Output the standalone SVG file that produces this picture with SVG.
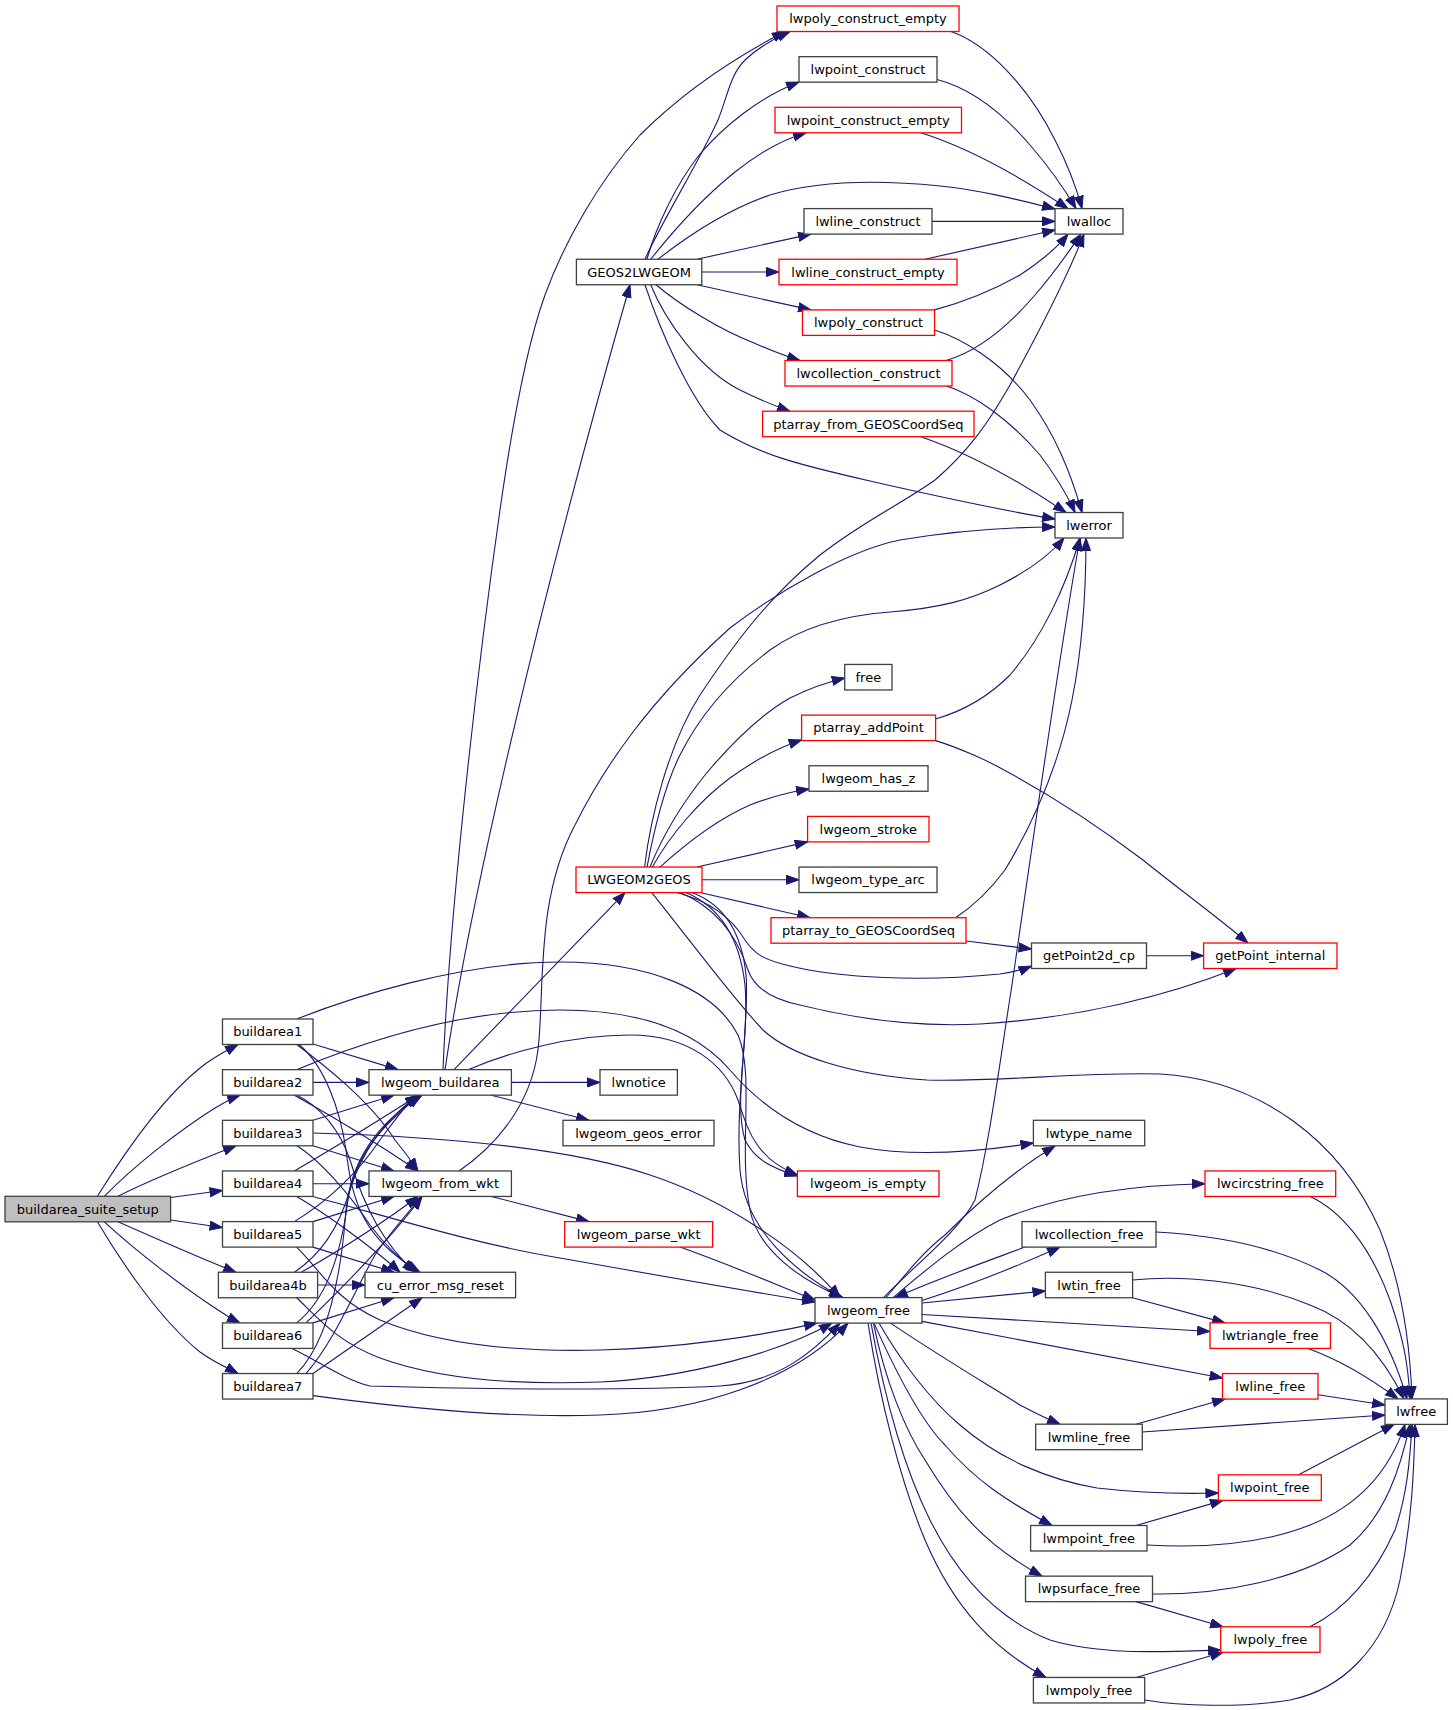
<svg xmlns="http://www.w3.org/2000/svg" width="1453" height="1710" viewBox="0 0 1453 1710">
<style>
.b{fill:#fff;stroke:#404040;stroke-width:1.3}
.r{fill:#fff;stroke:#ff0000;stroke-width:1.3}
.g{fill:#bfbfbf;stroke:#404040;stroke-width:1.3}
text{font-family:"DejaVu Sans","Liberation Sans",sans-serif;font-size:13px;text-anchor:middle;fill:#000}
.e{fill:none;stroke:#191970;stroke-width:1.1;marker-end:url(#a)}
</style>
<defs>
<marker id="a" markerUnits="userSpaceOnUse" markerWidth="15" markerHeight="11" refX="13" refY="5" orient="auto"><path d="M0.5,0.5 L13,5 L0.5,9.5 z" fill="#191970" stroke="#191970" stroke-width="1"/></marker>
</defs>
<rect width="1453" height="1710" fill="#fff"/>
<g id="edges">
<path class="e" d="M97.4,1196.3 C120,1160 160,1100 200,1068 C215,1056 228,1050 238,1044.5"/>
<path class="e" d="M104.3,1196.3 C135,1165 180,1130 215,1108 C225,1102 232,1098 240,1095.2"/>
<path class="e" d="M118,1196.3 C150,1180 200,1160 236,1145.8"/>
<path class="e" d="M170.6,1197.5 L222.5,1190.5"/>
<path class="e" d="M170.6,1220 L222.5,1227.5"/>
<path class="e" d="M118,1221.8 C150,1236 200,1258 236,1272.3"/>
<path class="e" d="M104.3,1221.8 C135,1250 180,1285 215,1308 C225,1315 232,1319 240,1322.9"/>
<path class="e" d="M97.4,1221.8 C120,1260 160,1320 200,1352 C215,1363 228,1368 238,1373.5"/>
<path class="e" d="M313,1044 L398,1069.65"/>
<path class="e" d="M296.7,1044.5 C320,1062 370,1100 395,1140 C405,1152 412,1162 418,1170.95"/>
<path class="e" d="M299,1044.5 C325,1066 340,1110 346,1150 C352,1200 362,1238 420,1272.25"/>
<path class="e" d="M296.7,1019 C350,998 460,962 560,962 C650,962 715,990 738,1035 C755,1075 738,1150 750,1210 C758,1250 800,1280 843,1297.6"/>
<path class="e" d="M313,1082.4 L369,1082.4"/>
<path class="e" d="M294.4,1095.2 C330,1115 380,1145 418,1170.95"/>
<path class="e" d="M296.7,1095.2 C320,1106 340,1130 350,1160 C365,1210 385,1245 415,1272.25"/>
<path class="e" d="M296.7,1069.65 C380,1035 470,1010 560,1010 C650,1010 700,1035 730,1070 C760,1105 800,1135 860,1147 C920,1158 990,1150 1033.4,1143"/>
<path class="e" d="M313,1120.3 L394,1095.2"/>
<path class="e" d="M313,1145.8 L394,1170.95"/>
<path class="e" d="M296.7,1145.8 C320,1160 350,1195 370,1225 C385,1245 400,1260 418,1272.25"/>
<path class="e" d="M313,1133.05 C420,1136 560,1145 650,1175 C720,1198 795,1245 840,1297.6"/>
<path class="e" d="M294.4,1170.95 C330,1150 380,1120 418,1095.2"/>
<path class="e" d="M313,1183.7 L369,1183.7"/>
<path class="e" d="M296.7,1196.45 C320,1210 370,1245 400,1272.25"/>
<path class="e" d="M313,1196.45 C400,1220 480,1245 560,1258 C650,1274 740,1290 815,1302"/>
<path class="e" d="M294.4,1221.6 C330,1200 360,1170 380,1140 C395,1120 405,1105 418,1095.2"/>
<path class="e" d="M313,1221.6 L394,1196.45"/>
<path class="e" d="M313,1247.1 L394,1272.25"/>
<path class="e" d="M296.7,1247.1 C320,1270 335,1300 380,1320 C440,1345 520,1352 600,1350 C680,1348 760,1336 817,1323.1"/>
<path class="e" d="M294.4,1272.25 C320,1255 338,1230 350,1190 C362,1150 385,1120 418,1095.2"/>
<path class="e" d="M301.3,1272.25 C340,1250 380,1225 418,1196.45"/>
<path class="e" d="M317.6,1285 L365,1285"/>
<path class="e" d="M296.7,1297.75 C320,1320 338,1342 380,1358 C440,1380 520,1385 600,1382 C690,1378 785,1350 832,1323.1"/>
<path class="e" d="M296.7,1322.9 C325,1300 340,1260 348,1200 C355,1150 390,1120 420,1095.2"/>
<path class="e" d="M306,1322.9 C340,1290 390,1240 422,1196.45"/>
<path class="e" d="M313,1322.9 L394,1297.75"/>
<path class="e" d="M292,1348.4 C320,1362 345,1380 370,1386 C500,1390 650,1390 720,1386 C780,1382 815,1350 840,1323.1"/>
<path class="e" d="M296.7,1373.55 C325,1345 340,1290 346,1210 C352,1150 390,1115 422,1095.2"/>
<path class="e" d="M306,1373.55 C335,1340 355,1290 375,1255 C392,1230 410,1210 422,1196.45"/>
<path class="e" d="M313,1373.55 L422,1297.75"/>
<path class="e" d="M313,1395.6 C420,1410 520,1418 600,1415 C700,1412 795,1380 848,1323.1"/>
<path class="e" d="M511.4,1082.4 L600,1082.4"/>
<path class="e" d="M491.4,1095.2 L589,1120.3"/>
<path class="e" d="M454,1069.65 L625,892.55"/>
<path class="e" d="M445,1069.65 C470,900 540,600 630,284.75"/>
<path class="e" d="M443,1069.65 C450,900 480,650 500,510 C510,440 525,350 545,295 C565,240 600,180 640,135 C680,95 730,60 785,31.5"/>
<path class="e" d="M468,1069.65 C510,1052 570,1035 630,1035 C690,1035 725,1065 738,1100 C748,1130 755,1158 797.4,1175"/>
<path class="e" d="M491.4,1196.45 L589,1221.6"/>
<path class="e" d="M459,1170.95 C490,1150 530,1110 538,1050 C545,990 535,900 575,825 C605,765 650,700 730,628 C780,590 850,550 900,540 C960,530 1010,527 1055,527"/>
<path class="e" d="M680,1247.1 C730,1265 770,1282 815,1300"/>
<path class="e" d="M645,259.25 C660,225 700,160 718,120 C728,95 730,75 745,60 C758,48 770,40 790,31.5"/>
<path class="e" d="M647,259.25 C655,230 675,185 700,154 C725,125 760,97 799,82"/>
<path class="e" d="M650.7,259.25 C670,235 700,200 735,172 C760,152 785,139 806,132.8"/>
<path class="e" d="M658,259.25 C680,242 720,212 770,195 C820,180 880,180 940,186 C980,190 1020,200 1055,209"/>
<path class="e" d="M697,259.25 L811,234.1"/>
<path class="e" d="M701.8,272 L779,272"/>
<path class="e" d="M697,284.75 L811,309.9"/>
<path class="e" d="M656,284.75 C680,305 720,330 754,343 C770,350 785,356 800,360.55"/>
<path class="e" d="M650.7,284.75 C665,320 700,370 740,390 C760,400 775,406 790,411.2"/>
<path class="e" d="M645,284.75 C660,330 690,400 720,430 C760,455 800,465 870,481 C940,497 1000,510 1055,519"/>
<path class="e" d="M951,31.5 C990,45 1030,90 1055,140 C1068,165 1077,190 1082,208.6"/>
<path class="e" d="M937,79.5 C970,88 1000,110 1030,145 C1050,168 1065,190 1076,208.6"/>
<path class="e" d="M920.7,132.8 C960,145 1010,170 1068,208.6"/>
<path class="e" d="M932,221.35 L1055,221.35"/>
<path class="e" d="M925,259.25 L1055,230"/>
<path class="e" d="M934.6,309.9 C960,303 990,292 1020,275 C1040,262 1055,250 1068,234.1"/>
<path class="e" d="M946,360.55 C975,352 1005,330 1035,295 C1055,272 1070,250 1081,234.1"/>
<path class="e" d="M644.6,867.05 C650,820 668,745 700,695 C730,650 765,600 820,555 C865,520 900,505 935,480 C970,450 990,420 1010,385 C1040,330 1068,275 1084,234.1"/>
<path class="e" d="M934.6,330 C960,338 1000,360 1030,400 C1055,435 1070,470 1082,512.5"/>
<path class="e" d="M946,385.7 C975,395 1010,420 1040,455 C1055,475 1066,492 1075,512.5"/>
<path class="e" d="M920.7,436.7 C960,450 1010,475 1066,512.5"/>
<path class="e" d="M935.6,719 C960,712 985,700 1010,675 C1040,640 1065,590 1080,538"/>
<path class="e" d="M955.5,917.7 C975,905 990,890 1005,870 C1035,820 1060,760 1072,700 C1082,650 1086,600 1086,538"/>
<path class="e" d="M883.6,1297.6 C915,1265 960,1230 975,1200 C990,1140 1000,1060 1012,985 C1030,860 1060,650 1080,538"/>
<path class="e" d="M647,867.05 C655,825 665,785 680,755 C700,715 730,680 770,650 C805,625 850,615 890,612 C940,608 970,600 1000,585 C1030,570 1050,555 1064,538"/>
<path class="e" d="M650,867.05 C665,830 685,800 705,775 C730,745 760,715 790,698 C810,688 828,682 844.7,678"/>
<path class="e" d="M652.4,867.05 C670,835 700,800 730,778 C755,760 780,747 801.6,740"/>
<path class="e" d="M660,867.05 C690,840 720,818 750,805 C770,797 790,792 809,789"/>
<path class="e" d="M697,867.05 L807.6,841.9"/>
<path class="e" d="M702,879.8 L799,879.8"/>
<path class="e" d="M702,893 L810,917.7"/>
<path class="e" d="M676.7,892.55 C705,900 730,915 745,940 C755,955 765,960 790,966 C840,978 920,982 1000,974 C1012,972 1022,970 1031.5,966"/>
<path class="e" d="M680,892.55 C710,905 735,930 748,970 C755,990 775,1000 800,1005 C860,1020 920,1027 980,1024 C1080,1018 1170,995 1236,968.5"/>
<path class="e" d="M651.7,892.55 C690,940 730,995 763,1030 C790,1055 850,1075 927,1080 C1000,1082 1080,1072 1160,1074 C1260,1080 1340,1140 1380,1230 C1400,1280 1410,1340 1412,1398.9"/>
<path class="e" d="M692,892.55 C725,905 742,935 746,975 C750,1020 735,1100 740,1170 C745,1230 795,1272 842,1297.6"/>
<path class="e" d="M686,892.55 C722,908 740,940 745,985 C750,1040 733,1100 745,1140 C755,1160 772,1168 797.4,1176"/>
<path class="e" d="M935.6,740.6 C960,748 990,762 1004,770 C1060,800 1110,835 1143,860 C1180,890 1215,915 1248,943"/>
<path class="e" d="M966,941 L1031.5,949"/>
<path class="e" d="M1146.5,955.75 L1203.6,955.75"/>
<path class="e" d="M886,1297.6 C905,1275 925,1250 945,1235 C980,1200 1015,1170 1055,1146"/>
<path class="e" d="M893,1297.6 C920,1275 960,1240 1000,1220 C1060,1195 1130,1185 1205,1183.7"/>
<path class="e" d="M922,1300.6 C970,1285 1020,1265 1060,1247.1"/>
<path class="e" d="M1025,1247.1 C985,1262 940,1278 895,1297.6"/>
<path class="e" d="M922,1303 L1045.4,1291"/>
<path class="e" d="M922,1314.5 L1210,1331.5"/>
<path class="e" d="M922,1321.4 L1222.5,1378"/>
<path class="e" d="M890.6,1323.1 C930,1350 980,1380 1020,1405 C1035,1413 1050,1420 1060,1424.2"/>
<path class="e" d="M879,1323.1 C900,1360 930,1400 960,1425 C1000,1460 1050,1480 1097,1488 C1140,1493 1180,1494 1218.4,1493"/>
<path class="e" d="M874,1323.1 C895,1370 920,1420 945,1445 C975,1480 1005,1500 1052,1525.5"/>
<path class="e" d="M873.4,1323.1 C885,1380 905,1430 925,1460 C955,1510 985,1545 1042,1576.15"/>
<path class="e" d="M871,1323.1 C885,1400 905,1470 930,1520 C960,1580 1000,1620 1050,1640 C1100,1655 1160,1652 1220.7,1650"/>
<path class="e" d="M868,1323.1 C880,1400 900,1480 925,1540 C955,1610 995,1650 1046,1677.45"/>
<path class="e" d="M1310,1196.45 C1340,1210 1370,1245 1390,1300 C1402,1335 1408,1360 1410,1398.9"/>
<path class="e" d="M1156,1232 C1210,1235 1270,1245 1320,1270 C1360,1290 1390,1340 1407,1398.9"/>
<path class="e" d="M1132.6,1280 C1180,1275 1250,1280 1310,1305 C1355,1322 1385,1360 1404,1398.9"/>
<path class="e" d="M1132.6,1297.75 L1225,1322.9"/>
<path class="e" d="M1308,1348.4 C1340,1360 1370,1378 1398,1398.9"/>
<path class="e" d="M1318,1394.7 L1385,1405"/>
<path class="e" d="M1136,1424.2 L1225,1399.05"/>
<path class="e" d="M1142.3,1432 L1385,1415"/>
<path class="e" d="M1298.6,1474.85 L1394,1424.4"/>
<path class="e" d="M1136,1525.5 L1223,1500.35"/>
<path class="e" d="M1147,1545 C1200,1548 1260,1545 1310,1525 C1360,1505 1390,1470 1405,1424.4"/>
<path class="e" d="M1152.5,1594 C1220,1595 1300,1580 1350,1545 C1385,1515 1400,1470 1410,1424.4"/>
<path class="e" d="M1136,1601.65 L1223,1626.8"/>
<path class="e" d="M1310,1626.8 C1345,1610 1375,1575 1395,1530 C1407,1495 1410,1460 1412,1424.4"/>
<path class="e" d="M1136,1677.45 L1223,1652.3"/>
<path class="e" d="M1144.7,1700 C1180,1706 1240,1708 1290,1700 C1340,1690 1385,1650 1400,1580 C1412,1520 1414,1470 1415,1424.4"/>
</g>
<g id="n_buildarea_suite_setup"><rect class="g" x="5" y="1196.3" width="165.6" height="25.5"/><text x="87.8" y="1213.6">buildarea_suite_setup</text></g>
<g id="n_buildarea1"><rect class="b" x="222.5" y="1019" width="90.5" height="25.5"/><text x="267.75" y="1036.3">buildarea1</text></g>
<g id="n_buildarea2"><rect class="b" x="222.5" y="1069.65" width="90.5" height="25.5"/><text x="267.75" y="1086.95">buildarea2</text></g>
<g id="n_buildarea3"><rect class="b" x="222.5" y="1120.3" width="90.5" height="25.5"/><text x="267.75" y="1137.6">buildarea3</text></g>
<g id="n_buildarea4"><rect class="b" x="222.5" y="1170.95" width="90.5" height="25.5"/><text x="267.75" y="1188.25">buildarea4</text></g>
<g id="n_buildarea5"><rect class="b" x="222.5" y="1221.6" width="90.5" height="25.5"/><text x="267.75" y="1238.9">buildarea5</text></g>
<g id="n_buildarea4b"><rect class="b" x="218.4" y="1272.25" width="99.2" height="25.5"/><text x="268" y="1289.55">buildarea4b</text></g>
<g id="n_buildarea6"><rect class="b" x="222.5" y="1322.9" width="90.5" height="25.5"/><text x="267.75" y="1340.2">buildarea6</text></g>
<g id="n_buildarea7"><rect class="b" x="222.5" y="1373.55" width="90.5" height="25.5"/><text x="267.75" y="1390.85">buildarea7</text></g>
<g id="n_lwgeom_buildarea"><rect class="b" x="369" y="1069.65" width="142.4" height="25.5"/><text x="440.2" y="1086.95">lwgeom_buildarea</text></g>
<g id="n_lwgeom_from_wkt"><rect class="b" x="369" y="1170.95" width="142.4" height="25.5"/><text x="440.2" y="1188.25">lwgeom_from_wkt</text></g>
<g id="n_cu_error_msg_reset"><rect class="b" x="365" y="1272.25" width="150.6" height="25.5"/><text x="440.3" y="1289.55">cu_error_msg_reset</text></g>
<g id="n_GEOS2LWGEOM"><rect class="b" x="576.4" y="259.25" width="125.4" height="25.5"/><text x="639.1" y="276.55">GEOS2LWGEOM</text></g>
<g id="n_LWGEOM2GEOS"><rect class="r" x="576" y="867.05" width="126" height="25.5"/><text x="639" y="884.35">LWGEOM2GEOS</text></g>
<g id="n_lwnotice"><rect class="b" x="600" y="1069.65" width="77.4" height="25.5"/><text x="638.7" y="1086.95">lwnotice</text></g>
<g id="n_lwgeom_geos_error"><rect class="b" x="563" y="1120.3" width="151" height="25.5"/><text x="638.5" y="1137.6">lwgeom_geos_error</text></g>
<g id="n_lwgeom_parse_wkt"><rect class="r" x="564.7" y="1221.6" width="147.9" height="25.5"/><text x="638.65" y="1238.9">lwgeom_parse_wkt</text></g>
<g id="n_lwgeom_free"><rect class="b" x="815" y="1297.6" width="107" height="25.5"/><text x="868.5" y="1314.9">lwgeom_free</text></g>
<g id="n_lwpoly_construct_empty"><rect class="r" x="777" y="6" width="182" height="25.5"/><text x="868" y="23.3">lwpoly_construct_empty</text></g>
<g id="n_lwpoint_construct"><rect class="b" x="799" y="56.65" width="138" height="25.5"/><text x="868" y="73.95">lwpoint_construct</text></g>
<g id="n_lwpoint_construct_empty"><rect class="r" x="775" y="107.3" width="186.5" height="25.5"/><text x="868.25" y="124.6">lwpoint_construct_empty</text></g>
<g id="n_lwline_construct"><rect class="b" x="804" y="208.6" width="128" height="25.5"/><text x="868" y="225.9">lwline_construct</text></g>
<g id="n_lwline_construct_empty"><rect class="r" x="779" y="259.25" width="178" height="25.5"/><text x="868" y="276.55">lwline_construct_empty</text></g>
<g id="n_lwpoly_construct"><rect class="r" x="802.5" y="309.9" width="132.1" height="25.5"/><text x="868.55" y="327.2">lwpoly_construct</text></g>
<g id="n_lwcollection_construct"><rect class="r" x="785" y="360.55" width="167" height="25.5"/><text x="868.5" y="377.85">lwcollection_construct</text></g>
<g id="n_ptarray_from_GEOSCoordSeq"><rect class="r" x="762.6" y="411.2" width="211.4" height="25.5"/><text x="868.3" y="428.5">ptarray_from_GEOSCoordSeq</text></g>
<g id="n_free"><rect class="b" x="844.7" y="664.45" width="47.3" height="25.5"/><text x="868.35" y="681.75">free</text></g>
<g id="n_ptarray_addPoint"><rect class="r" x="801.6" y="715.1" width="134" height="25.5"/><text x="868.6" y="732.4">ptarray_addPoint</text></g>
<g id="n_lwgeom_has_z"><rect class="b" x="809" y="765.75" width="119" height="25.5"/><text x="868.5" y="783.05">lwgeom_has_z</text></g>
<g id="n_lwgeom_stroke"><rect class="r" x="807.6" y="816.4" width="121.4" height="25.5"/><text x="868.3" y="833.7">lwgeom_stroke</text></g>
<g id="n_lwgeom_type_arc"><rect class="b" x="799" y="867.05" width="138" height="25.5"/><text x="868" y="884.35">lwgeom_type_arc</text></g>
<g id="n_ptarray_to_GEOSCoordSeq"><rect class="r" x="771" y="917.7" width="195" height="25.5"/><text x="868.5" y="935">ptarray_to_GEOSCoordSeq</text></g>
<g id="n_lwgeom_is_empty"><rect class="r" x="797.4" y="1170.95" width="141.6" height="25.5"/><text x="868.2" y="1188.25">lwgeom_is_empty</text></g>
<g id="n_lwalloc"><rect class="b" x="1055" y="208.6" width="68" height="25.5"/><text x="1089" y="225.9">lwalloc</text></g>
<g id="n_lwerror"><rect class="b" x="1055" y="512.5" width="68" height="25.5"/><text x="1089" y="529.8">lwerror</text></g>
<g id="n_getPoint2d_cp"><rect class="b" x="1031.5" y="943" width="115" height="25.5"/><text x="1089" y="960.3">getPoint2d_cp</text></g>
<g id="n_lwtype_name"><rect class="b" x="1033.4" y="1120.3" width="111.3" height="25.5"/><text x="1089.05" y="1137.6">lwtype_name</text></g>
<g id="n_lwcollection_free"><rect class="b" x="1022" y="1221.6" width="134" height="25.5"/><text x="1089" y="1238.9">lwcollection_free</text></g>
<g id="n_lwtin_free"><rect class="b" x="1045.4" y="1272.25" width="87.2" height="25.5"/><text x="1089" y="1289.55">lwtin_free</text></g>
<g id="n_lwmline_free"><rect class="b" x="1035.7" y="1424.2" width="106.6" height="25.5"/><text x="1089" y="1441.5">lwmline_free</text></g>
<g id="n_lwmpoint_free"><rect class="b" x="1030.6" y="1525.5" width="116.4" height="25.5"/><text x="1088.8" y="1542.8">lwmpoint_free</text></g>
<g id="n_lwpsurface_free"><rect class="b" x="1025.5" y="1576.15" width="127" height="25.5"/><text x="1089" y="1593.45">lwpsurface_free</text></g>
<g id="n_lwmpoly_free"><rect class="b" x="1033.4" y="1677.45" width="111.3" height="25.5"/><text x="1089.05" y="1694.75">lwmpoly_free</text></g>
<g id="n_getPoint_internal"><rect class="r" x="1203.6" y="943" width="133.4" height="25.5"/><text x="1270.3" y="960.3">getPoint_internal</text></g>
<g id="n_lwcircstring_free"><rect class="r" x="1205" y="1170.95" width="130.7" height="25.5"/><text x="1270.35" y="1188.25">lwcircstring_free</text></g>
<g id="n_lwtriangle_free"><rect class="r" x="1210" y="1322.9" width="120.5" height="25.5"/><text x="1270.25" y="1340.2">lwtriangle_free</text></g>
<g id="n_lwline_free"><rect class="r" x="1222.5" y="1373.55" width="95.5" height="25.5"/><text x="1270.25" y="1390.85">lwline_free</text></g>
<g id="n_lwpoint_free"><rect class="r" x="1218.4" y="1474.85" width="102.9" height="25.5"/><text x="1269.85" y="1492.15">lwpoint_free</text></g>
<g id="n_lwpoly_free"><rect class="r" x="1220.7" y="1626.8" width="99.3" height="25.5"/><text x="1270.35" y="1644.1">lwpoly_free</text></g>
<g id="n_lwfree"><rect class="b" x="1385" y="1398.9" width="62.4" height="25.5"/><text x="1416.2" y="1416.2">lwfree</text></g>
</svg>
